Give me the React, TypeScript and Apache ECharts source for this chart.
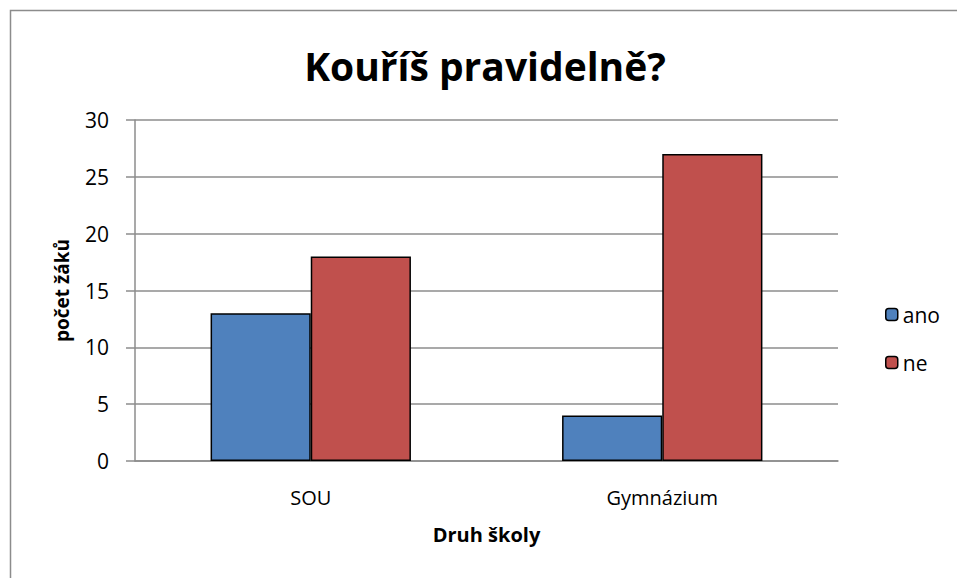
import React, { useEffect, useRef } from "react";
import * as echarts from "echarts";

const categories = ["SOU", "Gymnázium"];
const anoValues = [13, 4];
const neValues = [18, 27];
const seriesNames = ["ano", "ne"];
const yTicks = { min: 0, max: 30, interval: 5 };

const FONT = "'Open Sans', Lato, sans-serif";

export default function App() {
  const ref = useRef<HTMLDivElement>(null);
  useEffect(() => {
    if (!ref.current) return;
    const chart = echarts.init(ref.current, undefined, { renderer: "svg" });
    chart.setOption({
      animation: false,
      backgroundColor: "#ffffff",
      textStyle: { fontFamily: FONT },
      title: {
        text: "Kouříš pravidelně?",
        left: 480,
        top: 41,
        textAlign: "center",
        textStyle: { fontSize: 39, fontWeight: "bold", color: "#000", fontFamily: FONT },
      },
      graphic: [
        {
          type: "rect",
          left: 8,
          top: 8,
          shape: { width: 1000, height: 700 },
          style: { fill: "none", stroke: "#8c8c8c", lineWidth: 1.5 },
          silent: true,
          z: -1,
        },
      ],
      legend: {
        data: seriesNames,
        orient: "vertical",
        left: 880,
        top: 299,
        itemWidth: 12,
        itemHeight: 12,
        itemGap: 27,
        itemStyle: { borderColor: "#000", borderWidth: 1.5 },
        textStyle: { fontSize: 21, color: "#000", fontFamily: FONT, padding: [0, 0, 0, 0] },
      },
      grid: { left: 135, right: 119, top: 120, bottom: 117 },
      xAxis: {
        type: "category",
        data: categories,
        name: "Druh školy",
        nameLocation: "middle",
        nameGap: 63,
        nameTextStyle: { fontSize: 20, fontWeight: "bold", color: "#000", fontFamily: FONT },
        axisLine: { show: true, lineStyle: { color: "#8c8c8c", width: 1.5 } },
        axisTick: { show: false },
        axisLabel: { fontSize: 20, color: "#000", margin: 26, fontFamily: FONT },
      },
      yAxis: {
        type: "value",
        min: yTicks.min,
        max: yTicks.max,
        interval: yTicks.interval,
        name: "počet žáků",
        nameLocation: "middle",
        nameGap: 64,
        nameTextStyle: { fontSize: 19, fontWeight: "bold", color: "#000", fontFamily: FONT },
        axisLine: { show: true, lineStyle: { color: "#8c8c8c", width: 1.5 } },
        axisTick: { show: true, length: 9, inside: false, lineStyle: { color: "#8c8c8c", width: 1.5 } },
        axisLabel: { fontSize: 21, color: "#000", margin: 26, fontFamily: FONT },
        splitLine: { show: true, lineStyle: { color: "#8c8c8c", width: 1.5 } },
      },
      series: [
        {
          name: seriesNames[0],
          type: "bar",
          data: anoValues,
          barGap: "0%",
          barCategoryGap: "43%",
          itemStyle: { color: "#4F81BD", borderColor: "#000", borderWidth: 1.5 },
        },
        {
          name: seriesNames[1],
          type: "bar",
          data: neValues,
          barGap: "0%",
          barCategoryGap: "43%",
          itemStyle: { color: "#C0504D", borderColor: "#000", borderWidth: 1.5 },
        },
      ],
    });
    return () => chart.dispose();
  }, []);
  return (
    <div
      ref={ref}
      style={{ position: "fixed", left: 0, top: 0, width: 957, height: 578 }}
    />
  );
}
